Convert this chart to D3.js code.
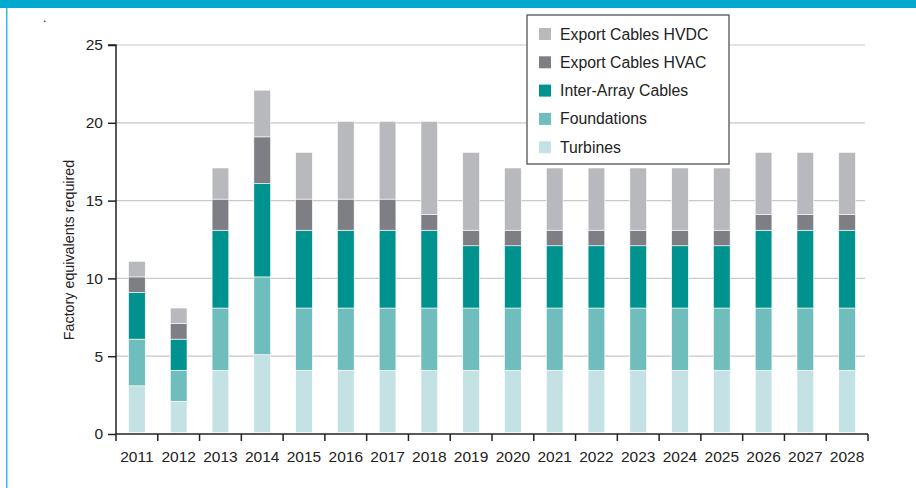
<!DOCTYPE html>
<html><head><meta charset="utf-8">
<script src="https://cdn.jsdelivr.net/npm/d3@7"></script>
<style>body{margin:0;background:#fff;}svg{display:block;font-family:"Liberation Sans",Arial,sans-serif;}</style>
</head><body>
<svg id="c" width="916" height="488"></svg>
<script>
const years = ["2011","2012","2013","2014","2015","2016","2017","2018","2019","2020","2021","2022","2023","2024","2025","2026","2027","2028"];
const turbines    = [3,2,4,5,4,4,4,4,4,4,4,4,4,4,4,4,4,4];
const foundations = [3,2,4,5,4,4,4,4,4,4,4,4,4,4,4,4,4,4];
const interArray  = [3,2,5,6,5,5,5,5,4,4,4,4,4,4,4,5,5,5];
const hvac        = [1,1,2,3,2,2,2,1,1,1,1,1,1,1,1,1,1,1];
const hvdc        = [1,1,2,3,3,5,5,6,5,4,4,4,4,4,4,4,4,4];
const seriesNames = ["Turbines","Foundations","Inter-Array Cables","Export Cables HVAC","Export Cables HVDC"];
const seriesColors = ["#c4e2e3","#6fbdbd","#00928f","#7e7f84","#b8b9bd"];
const yTicks = [0,5,10,15,20,25];

const svg = d3.select("#c");
svg.append("rect").attr("x",0).attr("y",0).attr("width",916).attr("height",8).attr("fill","#00a9cd");
svg.append("rect").attr("x",6).attr("y",8).attr("width",1.5).attr("height",480).attr("fill","#3cb9d8");
svg.append("text").attr("x",43).attr("y",22).attr("font-size",12).attr("fill","#222").text(".");

const x = d3.scaleBand().domain(years).range([116,868]).paddingInner(0.6).paddingOuter(0.3);
const y = d3.scaleLinear().domain([0,25]).range([434,45]);

// gridlines
svg.append("g").selectAll("line").data(yTicks.filter(d=>d>0)).join("line")
  .attr("x1",116).attr("x2",865).attr("y1",d=>y(d)).attr("y2",d=>y(d))
  .attr("stroke","#c9c9c9").attr("stroke-width",1.2);

const table = years.map((yr,i)=>({year:yr, s0:turbines[i], s1:foundations[i], s2:interArray[i], s3:hvac[i], s4:hvdc[i]}));
const stack = d3.stack().keys(["s0","s1","s2","s3","s4"])(table);
svg.append("g").selectAll("g").data(stack).join("g")
  .attr("fill",(d,i)=>seriesColors[i])
  .selectAll("rect").data(d=>d).join("rect")
  .attr("x",d=>x(d.data.year)).attr("width",x.bandwidth())
  .attr("y",d=>y(d[1])-1.5).attr("height",d=>y(d[0])-y(d[1]))
  .attr("stroke","#fff").attr("stroke-width",0.6);

// y axis
const ya = svg.append("g").attr("transform","translate(116,0)")
  .call(d3.axisLeft(y).tickValues(yTicks).tickSize(8).tickPadding(5));
ya.select(".domain").attr("stroke","#222").attr("stroke-width",1.5).attr("d","M-8,45H0V434");
ya.selectAll(".tick line").attr("stroke","#222").attr("stroke-width",1.5);
ya.selectAll("text").attr("font-size",15.5).attr("fill","#222").attr("font-family","Liberation Sans, Arial, sans-serif");

// x axis
const xa = svg.append("g").attr("transform","translate(0,434)");
xa.append("line").attr("x1",116).attr("x2",868).attr("y1",0).attr("y2",0).attr("stroke","#222").attr("stroke-width",1.5);
const bounds = years.map((d,i)=>116 + i*x.step()).concat([868]);
xa.selectAll("line.t").data(bounds).join("line").attr("class","t")
  .attr("x1",d=>d).attr("x2",d=>d).attr("y1",0).attr("y2",7).attr("stroke","#222").attr("stroke-width",1.5);
xa.selectAll("text").data(years).join("text")
  .attr("x",d=>x(d)+x.bandwidth()/2).attr("y",28).attr("text-anchor","middle")
  .attr("font-size",15.5).attr("fill","#222").text(d=>d);

svg.append("text").attr("transform","translate(74,250) rotate(-90)").attr("text-anchor","middle")
  .attr("font-size",14.3).attr("fill","#222").text("Factory equivalents required");

// legend
const lg = svg.append("g");
lg.append("rect").attr("x",527).attr("y",15).attr("width",202).attr("height",149)
  .attr("fill","#fff").attr("stroke","#444").attr("stroke-width",1.2);
const order = [4,3,2,1,0];
lg.selectAll("g.it").data(order).join("g").attr("class","it")
  .attr("transform",(d,i)=>`translate(539,${34 + i*28.3})`)
  .each(function(d){
    const g = d3.select(this);
    g.append("rect").attr("x",0).attr("y",-6).attr("width",12).attr("height",12).attr("fill",seriesColors[d]);
    g.append("text").attr("x",21).attr("y",5.5).attr("font-size",15.8).attr("fill","#222").text(seriesNames[d]);
  });
</script>
</body></html>
